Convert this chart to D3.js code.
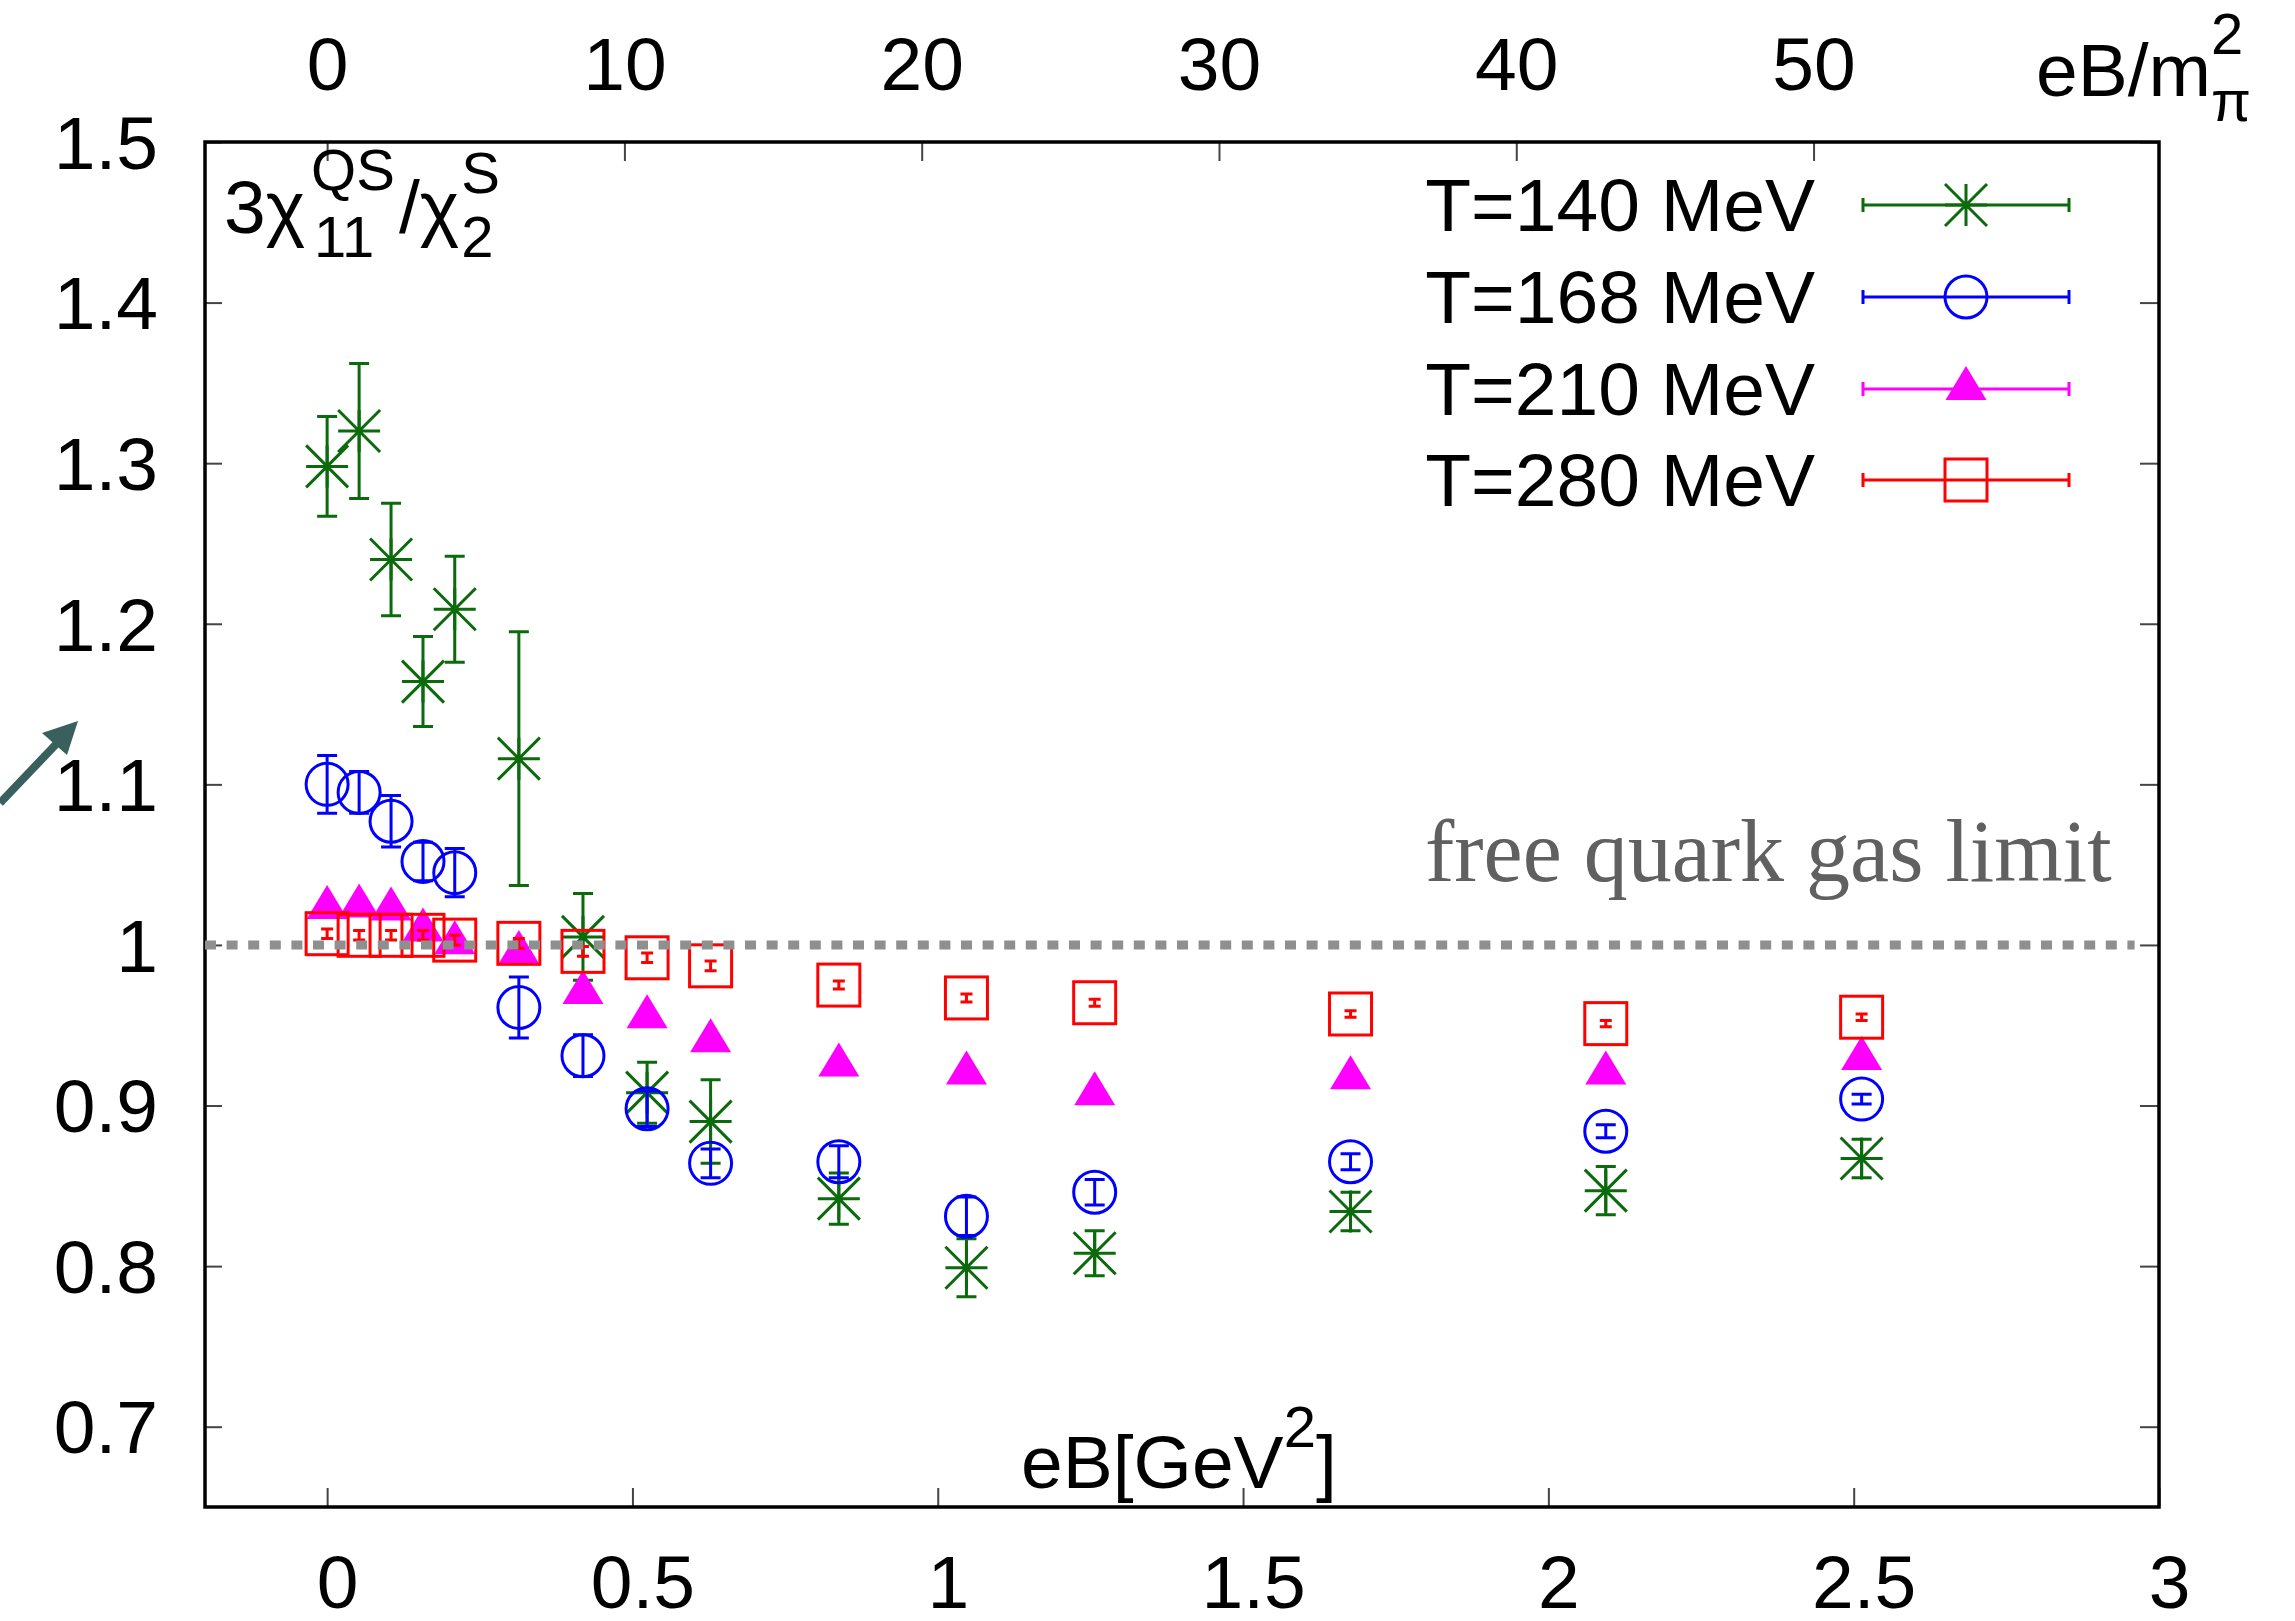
<!DOCTYPE html>
<html>
<head>
<meta charset="utf-8">
<script src="https://cdn.jsdelivr.net/npm/d3@7"></script>
<style>
  body { margin: 0; background: #ffffff; }
  text { font-family: "Liberation Sans", Arial, Helvetica, sans-serif; }
</style>
</head>
<body>
<script>
var w = 2295;
var h = 1621;

// eB in GeV^2, same grid for every temperature
var eB = [0, 0.0524, 0.1047, 0.157, 0.209, 0.314, 0.419, 0.524, 0.628, 0.838, 1.047, 1.257, 1.676, 2.094, 2.513];

// 3 chi11^QS / chi2^S and errors per temperature
var t140 = [1.298, 1.320, 1.240, 1.164, 1.209, 1.116, 1.005, 0.908, 0.890, 0.842, 0.799, 0.808, 0.834, 0.847, 0.867];
var t140err = [0.031, 0.042, 0.035, 0.028, 0.033, 0.079, 0.027, 0.019, 0.026, 0.016, 0.018, 0.014, 0.012, 0.015, 0.012];
var t168 = [1.100, 1.095, 1.077, 1.052, 1.045, 0.961, 0.931, 0.898, 0.864, 0.865, 0.831, 0.846, 0.865, 0.884, 0.904];
var t168err = [0.018, 0.013, 0.016, 0.012, 0.015, 0.019, 0.013, 0.011, 0.009, 0.010, 0.012, 0.008, 0.005, 0.004, 0.003];
var t210 = [1.023, 1.024, 1.022, 1.009, 1.001, 0.995, 0.970, 0.955, 0.940, 0.925, 0.920, 0.907, 0.917, 0.920, 0.929];
var t210err = [0.002, 0.002, 0.002, 0.002, 0.002, 0.002, 0.002, 0.002, 0.002, 0.002, 0.002, 0.002, 0.002, 0.002, 0.002];
var t280 = [1.007, 1.006, 1.006, 1.006, 1.003, 1.001, 0.996, 0.992, 0.987, 0.975, 0.967, 0.964, 0.957, 0.951, 0.955];
var t280err = [0.003, 0.003, 0.003, 0.003, 0.003, 0.003, 0.003, 0.003, 0.003, 0.0025, 0.0025, 0.0022, 0.002, 0.002, 0.002];

var seriesNames = ["T=140 MeV", "T=168 MeV", "T=210 MeV", "T=280 MeV"];
var seriesColors = ["#0b6a0b", "#0000ff", "#ff00ff", "#ff0000"];
var seriesSymbols = ["star", "circle", "triangle", "square"];
var seriesValues = [t140, t168, t210, t280];
var seriesErrors = [t140err, t168err, t210err, t280err];

var xTicks = [0, 0.5, 1, 1.5, 2, 2.5, 3];
var xTopTicks = [0, 10, 20, 30, 40, 50];
var yTicks = [0.7, 0.8, 0.9, 1, 1.1, 1.2, 1.3, 1.4, 1.5];

// 1 GeV^2 expressed in units of m_pi^2
var eBPerMpi2 = 20.54;
var freeLimit = 1;

var plotLeft = 205, plotRight = 2159, plotTop = 142, plotBottom = 1507;
var fontSize = 75;
var smallFont = 58;

var svg = d3.select("body").append("svg")
  .attr("width", w)
  .attr("height", h);

var x = d3.scaleLinear().domain([-0.2, 3]).range([plotLeft, plotRight]);
var xTop = d3.scaleLinear().domain([-0.2 * eBPerMpi2, 3 * eBPerMpi2]).range([plotLeft, plotRight]);
var y = d3.scaleLinear().domain([0.65, 1.5]).range([plotBottom, plotTop]);

function styleAxis(g) {
  g.select(".domain").remove();
  g.attr("font-size", fontSize);
  g.selectAll(".tick line").attr("stroke", "#444").attr("stroke-width", 2);
  g.selectAll(".tick text").attr("fill", "#000");
}

// bottom axis (eB in GeV^2)
var gBottom = svg.append("g")
  .attr("transform", "translate(0," + plotBottom + ")")
  .call(d3.axisBottom(x).tickValues(xTicks).tickFormat(function(d) { return d; })
    .tickSizeInner(-19).tickSizeOuter(0).tickPadding(48));
styleAxis(gBottom);
gBottom.selectAll(".tick text").attr("dx", 10);

// top axis (eB / m_pi^2)
var gTop = svg.append("g")
  .attr("transform", "translate(0," + plotTop + ")")
  .call(d3.axisTop(xTop).tickValues(xTopTicks).tickFormat(function(d) { return d; })
    .tickSizeInner(-19).tickSizeOuter(0).tickPadding(52));
styleAxis(gTop);

// left axis
var gLeft = svg.append("g")
  .attr("transform", "translate(" + plotLeft + ",0)")
  .call(d3.axisLeft(y).tickValues(yTicks).tickFormat(function(d) { return d; })
    .tickSizeInner(-17).tickSizeOuter(0).tickPadding(47));
styleAxis(gLeft);
gLeft.selectAll(".tick text").attr("dy", "0.35em");

// right axis, ticks only
var gRight = svg.append("g")
  .attr("transform", "translate(" + plotRight + ",0)")
  .call(d3.axisRight(y).tickValues(yTicks).tickFormat("")
    .tickSizeInner(-19).tickSizeOuter(0));
styleAxis(gRight);

// frame
svg.append("rect")
  .attr("x", plotLeft).attr("y", plotTop)
  .attr("width", plotRight - plotLeft).attr("height", plotBottom - plotTop)
  .attr("fill", "none").attr("stroke", "#000").attr("stroke-width", 3.5);

// point symbols, gnuplot style
function drawSymbol(g, type, color) {
  if (type == "star") {
    g.append("path")
      .attr("d", "M-21,0H21M0,-21V21M-21,-21L21,21M-21,21L21,-21")
      .attr("stroke", color).attr("stroke-width", 3).attr("fill", "none");
  } else if (type == "circle") {
    g.append("circle").attr("r", 21)
      .attr("stroke", color).attr("stroke-width", 3).attr("fill", "none");
  } else if (type == "triangle") {
    g.append("path").attr("d", "M0,-23L20.5,11L-20.5,11Z").attr("fill", color);
  } else if (type == "square") {
    g.append("rect").attr("x", -21).attr("y", -21).attr("width", 42).attr("height", 42)
      .attr("stroke", color).attr("stroke-width", 3).attr("fill", "none");
  }
}

// data with error bars
seriesNames.forEach(function(name, s) {
  var color = seriesColors[s];
  var cap = s == 3 ? 6 : 10;
  var points = eB.map(function(e, i) {
    return { x: e, v: seriesValues[s][i], err: seriesErrors[s][i] };
  });

  var g = svg.append("g").attr("class", "series");

  var p = g.selectAll(".pt")
    .data(points)
    .enter().append("g")
    .attr("class", "pt");

  p.append("path")
    .attr("d", function(d) {
      var cx = x(d.x), y1 = y(d.v + d.err), y2 = y(d.v - d.err);
      return "M" + cx + "," + y1 + "V" + y2 +
        "M" + (cx - cap) + "," + y1 + "H" + (cx + cap) +
        "M" + (cx - cap) + "," + y2 + "H" + (cx + cap);
    })
    .attr("stroke", color).attr("stroke-width", 3).attr("fill", "none");

  p.each(function(d) {
    var sg = d3.select(this).append("g")
      .attr("transform", "translate(" + x(d.x) + "," + y(d.v) + ")");
    drawSymbol(sg, seriesSymbols[s], color);
  });
});

// free quark gas limit
svg.append("line")
  .attr("x1", x(-0.2)).attr("x2", x(2.96))
  .attr("y1", y(freeLimit)).attr("y2", y(freeLimit))
  .attr("stroke", "#8f8f8f").attr("stroke-width", 9)
  .attr("stroke-dasharray", "11,10.6");

svg.append("text")
  .attr("x", 1425).attr("y", 881)
  .style("font-family", "'Liberation Serif', 'DejaVu Serif', serif")
  .attr("font-size", 88)
  .attr("fill", "#606060")
  .text("free quark gas limit");

// legend
var legendRowY = [205, 297, 389, 480];
seriesNames.forEach(function(name, s) {
  var ly = legendRowY[s];
  var color = seriesColors[s];
  svg.append("text")
    .attr("x", 1815).attr("y", ly).attr("dy", "0.35em")
    .attr("text-anchor", "end")
    .attr("font-size", fontSize)
    .text(name);
  svg.append("path")
    .attr("d", "M1863," + ly + "H2069M1863," + (ly - 7) + "V" + (ly + 7) +
      "M2069," + (ly - 7) + "V" + (ly + 7))
    .attr("stroke", color).attr("stroke-width", 3).attr("fill", "none");
  var sg = svg.append("g").attr("transform", "translate(1966," + ly + ")");
  drawSymbol(sg, seriesSymbols[s], color);
});

// text helpers for sub/superscripts
function addText(px, py, str, size) {
  return svg.append("text").attr("x", px).attr("y", py)
    .attr("font-size", size).attr("fill", "#000").text(str);
}
function width(t) { return t.node().getComputedTextLength(); }

// y label: 3 chi_11^QS / chi_2^S
var lx = 224;
var a = addText(lx, 233, "3\u03C7", fontSize);
lx += width(a);
var a1 = addText(lx + 6, 190, "QS", smallFont);
var a2 = addText(lx + 9, 257, "11", smallFont);
lx += Math.max(width(a1), width(a2)) + 10;
var b = addText(lx, 233, "/\u03C7", fontSize);
lx += width(b) + 2;
addText(lx, 193, "S", smallFont);
addText(lx, 257, "2", smallFont);

// top axis label: eB/m_pi^2
var c = addText(2036, 96, "eB/m", fontSize);
var cx0 = 2036 + width(c);
addText(cx0, 54, "2", smallFont);
addText(cx0, 121, "\u03C0", smallFont);

// bottom axis label: eB[GeV^2]
var d1 = addText(1021, 1488, "eB[GeV", fontSize);
var dx0 = 1021 + width(d1);
var d2 = addText(dx0, 1447, "2", smallFont);
addText(dx0 + width(d2), 1488, "]", fontSize);

// arrow at left edge
var arrowColor = "#3a605d";
svg.append("line")
  .attr("x1", 0).attr("y1", 803).attr("x2", 62).attr("y2", 738)
  .attr("stroke", arrowColor).attr("stroke-width", 8);
svg.append("path")
  .attr("d", "M78,721L42,733L67,755Z")
  .attr("fill", arrowColor);
</script>
</body>
</html>
